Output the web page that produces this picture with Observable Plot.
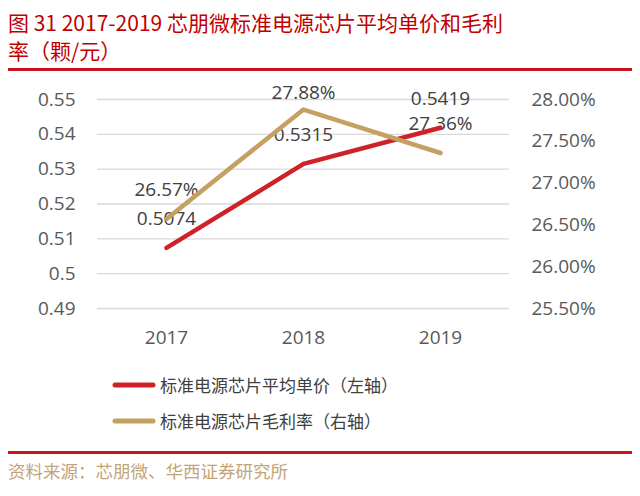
<!DOCTYPE html>
<html>
<head>
<meta charset="utf-8">
<script src="https://cdn.jsdelivr.net/npm/d3@7"></script>
<script src="https://cdn.jsdelivr.net/npm/@observablehq/plot@0.6"></script>
<style>
  html, body { margin:0; padding:0; background:#fff; }
  #page { position:relative; width:640px; height:496px; overflow:hidden; background:#fff; }
  #title { position:absolute; left:8px; top:8px; font-family:"Noto Sans CJK SC", sans-serif; font-size:21px; line-height:28px; color:#c00000; white-space:nowrap; }
  .rule { position:absolute; left:8px; width:624px; height:3px; background:#c8141c; }
  #chart { position:absolute; left:0; top:80px; }
  .leg { position:absolute; left:112px; font-family:"Noto Sans CJK SC", sans-serif; font-size:17px; color:#404040; display:flex; align-items:center; white-space:nowrap; }
  .leg svg { margin-right:4px; }
  #source { position:absolute; left:8px; top:458px; font-family:"Noto Sans CJK SC", sans-serif; font-size:17.5px; color:#c3a476; white-space:nowrap; }
</style>
</head>
<body>
<div id="page">
  <div id="title">图 31 2017-2019 芯朋微标准电源芯片平均单价和毛利<br>率（颗/元）</div>
  <div class="rule" style="top:68px"></div>
  <div id="chart"></div>
  <div id="legend"></div>
  <div class="rule" style="top:451px"></div>
  <div id="source">资料来源：芯朋微、华西证券研究所</div>
</div>
<script>
const years = ["2017", "2018", "2019"];
const avgPrice = [0.5074, 0.5315, 0.5419];          // 左轴 元
const grossMargin = [26.57, 27.88, 27.36];          // 右轴 %
const leftTicks = [0.49, 0.50, 0.51, 0.52, 0.53, 0.54, 0.55];
const rightTicks = [25.5, 26.0, 26.5, 27.0, 27.5, 28.0];
const seriesNames = ["标准电源芯片平均单价（左轴）", "标准电源芯片毛利率（右轴）"];
const seriesColors = ["#cf2128", "#c4a062"];

// map right-axis percentage onto left-axis scale domain
const leftDomain = [0.49, 0.55];
const rightDomain = [25.5, 28.0];
const toLeft = p => leftDomain[0] + (p - rightDomain[0]) / (rightDomain[1] - rightDomain[0]) * (leftDomain[1] - leftDomain[0]);
const toRight = v => rightDomain[0] + (v - leftDomain[0]) / (leftDomain[1] - leftDomain[0]) * (rightDomain[1] - rightDomain[0]);

const priceData = years.map((y, i) => ({year: y, v: avgPrice[i], label: avgPrice[i].toFixed(4)}));
const marginData = years.map((y, i) => ({year: y, v: toLeft(grossMargin[i]), label: grossMargin[i].toFixed(2) + "%"}));

const font = "'Open Sans', 'Liberation Sans', sans-serif";

const chart = Plot.plot({
  width: 640,
  height: 280,
  marginLeft: 97,
  marginRight: 131,
  marginTop: 19,
  marginBottom: 52,
  x: {type: "point", domain: years, padding: 0.5},
  y: {domain: leftDomain},
  style: {fontFamily: font, background: "transparent", overflow: "visible"},
  marks: [
    Plot.gridY(leftTicks, {stroke: "#d9d9d9", strokeOpacity: 1, strokeWidth: 1.3}),
    Plot.axisY(leftTicks, {anchor: "left", tickSize: 0, tickPadding: 22, fontSize: 19, color: "#595959", label: null,
      tickFormat: d => String(+d.toFixed(2))}),
    Plot.axisY(rightTicks.map(toLeft), {anchor: "right", tickSize: 0, tickPadding: 22, fontSize: 19, color: "#595959", label: null,
      tickFormat: d => toRight(d).toFixed(2) + "%"}),
    Plot.axisX({tickSize: 0, tickPadding: 22, fontSize: 19, color: "#595959", label: null}),
    Plot.text(priceData, {x: "year", y: "v", text: "label", dy: -29, fontSize: 19, fill: "#404040"}),
    Plot.text(marginData, {filter: d => d.year !== "2018", x: "year", y: "v", text: "label", dy: -29, fontSize: 19, fill: "#404040"}),
    Plot.text(marginData, {filter: d => d.year === "2018", x: "year", y: "v", text: "label", dy: -17, fontSize: 19, fill: "#404040"}),
    Plot.line(priceData, {x: "year", y: "v", stroke: seriesColors[0], strokeWidth: 4.5, strokeLinecap: "round", strokeLinejoin: "round"}),
    Plot.line(marginData, {x: "year", y: "v", stroke: seriesColors[1], strokeWidth: 4.5, strokeLinecap: "round", strokeLinejoin: "round"})
  ]
});
document.getElementById("chart").appendChild(chart);

const legend = document.getElementById("legend");
seriesNames.forEach((name, i) => {
  const row = document.createElement("div");
  row.className = "leg";
  row.style.top = (372 + i * 36) + "px";
  row.innerHTML = `<svg width="44" height="10"><line x1="3" y1="5" x2="41" y2="5" stroke="${seriesColors[i]}" stroke-width="5" stroke-linecap="round"/></svg>`;
  const span = document.createElement("span");
  span.textContent = name;
  row.appendChild(span);
  legend.appendChild(row);
});
</script>
</body>
</html>
